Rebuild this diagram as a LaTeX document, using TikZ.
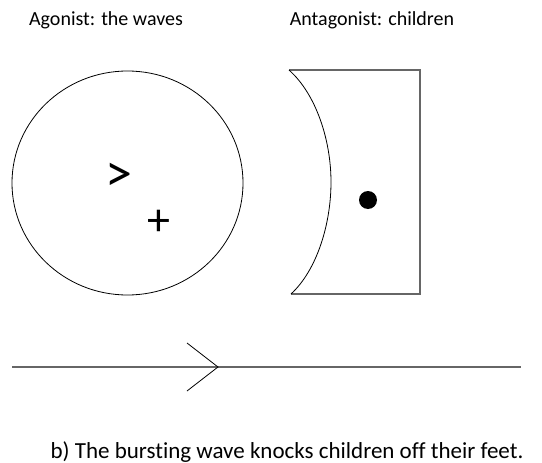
\documentclass[tikz,border=0pt]{standalone}
\usepackage{fontspec}
\setmainfont{Carlito}[Ligatures=NoCommon]
\usetikzlibrary{positioning,shapes.geometric}

\tikzset{
  label text/.style={inner sep=0pt,anchor=base,font=\fontsize{20}{24}\selectfont},
  sign text/.style={inner sep=0pt,font=\fontsize{46}{50}\selectfont},
  gray line/.style={draw=black!60,line width=1.2pt},
  thin line/.style={draw=black,line width=0.8pt}
}

\begin{document}
\begin{tikzpicture}[x=1pt,y=-1pt]
  \useasboundingbox (0,0) rectangle (542,463);
  % titles
  \node[label text] (agon) at (106,25) {Agonist: the waves};
  \node[label text] (antag) at (372,25) {Antagonist: children};
  % agonist
  \node[draw,thin line,ellipse,minimum width=231pt,minimum height=224pt,inner sep=0pt] (wave) at (127.5,183) {};
  \node[sign text,font=\fontsize{54}{58}\selectfont] (stronger) at (119,177) {>};
  \node[sign text] (plus) at (159,223) {+};
  % antagonist
  \coordinate (tl) at (289,70);
  \coordinate (tr) at (420,70);
  \coordinate (br) at (420,294);
  \coordinate (bl) at (291,294);
  \draw[gray line] (tl) -- (tr) -- (br) -- (bl);
  \draw[thin line] (tl) .. controls (316,94) and (331,140) .. (331,182)
    .. controls (331,224) and (317,270) .. (bl);
  \node[circle,fill=black,minimum size=18pt,inner sep=0pt] (kids) at (368,200) {};
  % resultant
  \coordinate (start) at (12,367);
  \coordinate (tip) at (218,367);
  \coordinate (stop) at (521,367);
  \draw[gray line] (start) -- (stop);
  \draw[thin line] ([shift={(-31,-24)}]tip) -- (tip) -- ([shift={(-31,24)}]tip);
  % caption
  \node[label text,font=\fontsize{23}{27}\selectfont] (caption) at (287,458) {b) The bursting wave knocks children off their feet.};
\end{tikzpicture}
\end{document}
